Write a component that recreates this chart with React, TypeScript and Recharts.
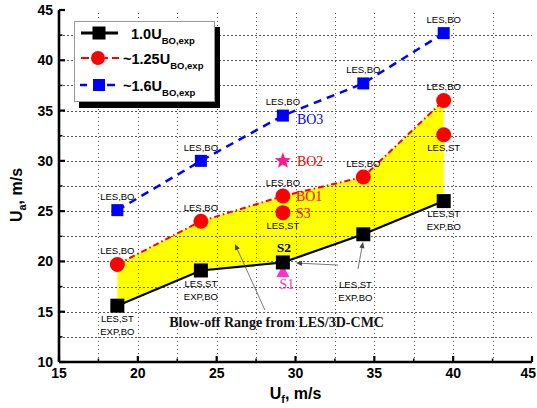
import React from 'react';
import {
  ComposedChart, XAxis, YAxis, Area, Line, Scatter,
  ReferenceLine, ReferenceDot, Legend, Label,
} from 'recharts';

// ---------- data ----------
const ufCases = [18.7, 24.0, 29.2, 34.3, 39.4];
const ua100 = [15.6, 19.1, 19.9, 22.7, 26.0];
const ua125 = [19.7, 24.0, 26.5, 28.4, 36.0];
const ua160 = [25.1, 30.0, 34.5, 37.7, 42.7];

const notes100 = ['LES,ST|EXP,BO', 'LES,ST|EXP,BO', '', '', 'LES,ST|EXP,BO'];
const tags100 = ['', '', 'S2', '', ''];
const notes125 = ['LES,BO', 'LES,BO', 'LES,BO', 'LES,BO', 'LES,BO'];
const tags125 = ['', '', 'BO1', '', ''];
const notes160 = ['LES,BO', 'LES,BO', 'LES,BO', 'LES,BO', 'LES,BO'];
const tags160 = ['', '', 'BO3', '', ''];

const stUf = [29.2, 39.4];
const stUa = [24.85, 32.6];
const stTags = ['S3', ''];

const bo2Uf = [29.2];
const bo2Ua = [30.0];
const s1Uf = [29.2];
const s1Ua = [19.0];

const farNoteUf = 33.8;
const farNoteUa = 17.7;
const farNoteText = 'LES,ST|EXP,BO';
const rangeTextUf = 28.8;
const rangeTextUa = 14.0;
const rangeText = 'Blow-off Range from LES/3D-CMC';

const arrowRange = [{ x: 28.06, y: 15.17 }, { x: 26.16, y: 21.73 }];
const arrowToS2 = [{ x: 32.69, y: 19.64 }, { x: 30.03, y: 19.84 }];
const arrowToP4 = [{ x: 33.96, y: 19.24 }, { x: 34.28, y: 21.93 }];

const xDomain = [15, 45];
const yDomain = [10, 45];
const xTicks = [15, 17.5, 20, 22.5, 25, 27.5, 30, 32.5, 35, 37.5, 40, 42.5, 45];
const yTicks = [10, 12.5, 15, 17.5, 20, 22.5, 25, 27.5, 30, 32.5, 35, 37.5, 40, 42.5, 45];

const legendLabels = ['1.0U', '~1.25U', '~1.6U'];
const legendSub = 'BO,exp';

// ---------- derived tables ----------
const rows = ufCases.map((uf, i) => ({
  uf, b: ua100[i], r: ua125[i], bl: ua160[i], band: [ua100[i], ua125[i]],
}));
const black = ufCases.map((uf, i) => ({ uf, ua: ua100[i], note: notes100[i], tag: tags100[i], below: true }));
const red = ufCases.map((uf, i) => ({ uf, ua: ua125[i], note: notes125[i], tag: tags125[i], below: false }));
const redSt = stUf.map((uf, i) => ({ uf, ua: stUa[i], note: 'LES,ST', tag: stTags[i], below: true }));
const blue = ufCases.map((uf, i) => ({ uf, ua: ua160[i], note: notes160[i], tag: tags160[i], below: false }));
const star = bo2Uf.map((uf, i) => ({ uf, ua: bo2Ua[i], tag: 'BO2' }));
const tri = s1Uf.map((uf, i) => ({ uf, ua: s1Ua[i], tag: 'S1' }));

const gridX = xTicks.filter((v) => v > xDomain[0] && v < xDomain[1]);
const gridY = yTicks.filter((v) => v > yDomain[0] && v < yDomain[1]);

// ---------- styles ----------
const SANS = "'Liberation Sans', Arial, sans-serif";
const SERIF = "'Liberation Serif', 'Times New Roman', serif";
const NOTE_FS = 9.5;
const RED = '#ff0000';
const BLUE = '#0000ff';
const MAG = '#ff33cc';

const Note = ({ cx, cy, note, below }: any) => {
  if (!note) return null;
  const lines = note.split('|');
  return (
    <g>
      {lines.map((t: string, i: number) => {
        const y = below ? cy + 13 * (i + 1) + 3.3 : cy - 13.5 * (lines.length - i) + 3.3;
        return (
          <text key={i} x={cx} y={y} textAnchor="middle" fontFamily={SANS} fontSize={NOTE_FS} fill="#000">{t}</text>
        );
      })}
    </g>
  );
};

const Tag = ({ x, y, text, color, anchor = 'start' }: any) =>
  text ? (
    <text x={x} y={y} textAnchor={anchor} fontFamily={SERIF} fontSize={14} fill={color}>{text}</text>
  ) : null;

const blackShape = (p: any) => {
  const { cx, cy, payload } = p;
  return (
    <g>
      <rect x={cx - 7} y={cy - 7} width={14} height={14} fill="#000" />
      <Note cx={cx} cy={cy} note={payload.note} below />
      {payload.tag && (
        <text x={cx + 1} y={cy - 10} textAnchor="middle" fontFamily={SERIF} fontWeight="bold" fontSize={13.5} fill="#000">{payload.tag}</text>
      )}
    </g>
  );
};

const redShape = (p: any) => {
  const { cx, cy, payload } = p;
  return (
    <g>
      <circle cx={cx} cy={cy} r={7.5} fill={RED} />
      <Note cx={cx} cy={cy} note={payload.note} below={payload.below} />
      <Tag x={cx + 13} y={cy + 5} text={payload.tag} color={RED} />
    </g>
  );
};

const blueShape = (p: any) => {
  const { cx, cy, payload } = p;
  return (
    <g>
      <rect x={cx - 6} y={cy - 6} width={12} height={12} fill={BLUE} />
      <Note cx={cx} cy={cy} note={payload.note} below={false} />
      <Tag x={cx + 14} y={cy + 8} text={payload.tag} color={BLUE} />
    </g>
  );
};

const starShape = (p: any) => {
  const { cx, cy, payload } = p;
  const pts: string[] = [];
  for (let k = 0; k < 10; k++) {
    const rr = k % 2 === 0 ? 8.5 : 3.6;
    const a = -Math.PI / 2 + (k * Math.PI) / 5;
    pts.push(`${cx + rr * Math.cos(a)},${cy + rr * Math.sin(a)}`);
  }
  return (
    <g>
      <polygon points={pts.join(' ')} fill="#ff1a8c" />
      <Tag x={cx + 14} y={cy + 5} text={payload.tag} color={RED} />
    </g>
  );
};

const triShape = (p: any) => {
  const { cx, cy, payload } = p;
  return (
    <g>
      <polygon points={`${cx},${cy - 7} ${cx + 6.5},${cy + 5.5} ${cx - 6.5},${cy + 5.5}`} fill={MAG} />
      <Tag x={cx + 4} y={cy + 18} text={payload.tag} color={MAG} anchor="middle" />
    </g>
  );
};

const arrowShape = (p: any) => {
  const { x1, y1, x2, y2 } = p;
  const ang = Math.atan2(y2 - y1, x2 - x1);
  const L = 6, W = 2.6;
  const bx = x2 - L * Math.cos(ang), by = y2 - L * Math.sin(ang);
  const nx = -Math.sin(ang) * W, ny = Math.cos(ang) * W;
  return (
    <g>
      <line x1={x1} y1={y1} x2={bx} y2={by} stroke="#555" strokeWidth={0.8} />
      <polygon points={`${x2},${y2} ${bx + nx},${by + ny} ${bx - nx},${by - ny}`} fill="#444" />
    </g>
  );
};

const gridShape = (p: any) => {
  const { x1, y1, x2, y2 } = p;
  const vertical = Math.abs(x1 - x2) < 0.5;
  const X1 = vertical ? Math.round(x1) + 0.5 : x1;
  const X2 = vertical ? Math.round(x2) + 0.5 : x2;
  const Y1 = vertical ? y1 : Math.round(y1) + 0.5;
  const Y2 = vertical ? y2 : Math.round(y2) + 0.5;
  return (
    <line x1={X1} y1={Y1} x2={X2} y2={Y2} stroke="#555" strokeWidth={1.2} strokeDasharray="1.5 2.5" shapeRendering="crispEdges" />
  );
};

// ---------- axis ticks ----------
const XTickBottom = (p: any) => {
  const { x, y, payload } = p;
  const v = payload.value;
  const major = v % 5 === 0;
  return (
    <g>
      <line x1={x} x2={x} y1={y} y2={y - (major ? 6 : 3.5)} stroke="#000" strokeWidth={major ? 2.2 : 1.5} />
      {major && (
        <text x={x} y={y + 16} textAnchor={v === 45 ? 'end' : 'middle'} dx={v === 45 ? 4 : 0} fontFamily={SANS} fontWeight="bold" fontSize={14} fill="#000">{v}</text>
      )}
    </g>
  );
};
const XTickTop = (p: any) => {
  const { x, y, payload } = p;
  const major = payload.value % 5 === 0;
  return <line x1={x} x2={x} y1={y} y2={y + (major ? 6 : 3.5)} stroke="#000" strokeWidth={major ? 2.2 : 1.5} />;
};
const YTickLeft = (p: any) => {
  const { x, y, payload } = p;
  const v = payload.value;
  const major = v % 5 === 0;
  return (
    <g>
      <line x1={x} x2={x + (major ? 6 : 3.5)} y1={y} y2={y} stroke="#000" strokeWidth={major ? 2.2 : 1.5} />
      {major && (
        <text x={x - 6} y={y + 5} textAnchor="end" fontFamily={SANS} fontWeight="bold" fontSize={14} fill="#000">{v}</text>
      )}
    </g>
  );
};
const YTickRight = (p: any) => {
  const { x, y, payload } = p;
  const major = payload.value % 5 === 0;
  return <line x1={x} x2={x - (major ? 6 : 3.5)} y1={y} y2={y} stroke="#000" strokeWidth={major ? 2.2 : 1.5} />;
};

const XTitle = (p: any) => {
  const vb = p.viewBox || { x: 59, y: 362, width: 473, height: 46 };
  return (
    <text x={vb.x + vb.width / 2} y={vb.y + 37} textAnchor="middle" fontFamily={SANS} fontWeight="bold" fontSize={16} fill="#000">
      U<tspan fontSize={11} dy={4}>f</tspan><tspan dy={-4}>, m/s</tspan>
    </text>
  );
};
const YTitle = () => {
  const cx = 22, cy = 195;
  return (
    <text x={cx} y={cy} transform={`rotate(-90 ${cx} ${cy})`} textAnchor="middle" fontFamily={SANS} fontWeight="bold" fontSize={16} fill="#000">
      U<tspan fontSize={11} dy={4}>a</tspan><tspan dy={-4}>, m/s</tspan>
    </text>
  );
};

// ---------- legend ----------
const LegendBox = () => (
  <svg width={150} height={92} style={{ display: 'block' }}>
    <rect x={5} y={6} width={141} height={81} fill="#000" />
    <rect x={0.5} y={0.5} width={140} height={80} fill="#fff" stroke="#999" strokeWidth={1} />
    <line x1={7} x2={44} y1={12} y2={12} stroke="#000" strokeWidth={3} />
    <rect x={18.5} y={5.5} width={13} height={13} fill="#000" />
    <text x={57} y={17.5} fontFamily={SANS} fontWeight="bold" fontSize={14.5} fill="#000">
      {legendLabels[0]}<tspan fontSize={9.5} dy={5}>{legendSub}</tspan>
    </text>
    <line x1={7} x2={15} y1={37} y2={37} stroke={RED} strokeWidth={2} />
    <line x1={31} x2={34} y1={37} y2={37} stroke={RED} strokeWidth={2} />
    <line x1={38} x2={45} y1={37} y2={37} stroke={RED} strokeWidth={2} />
    <circle cx={24} cy={37} r={7} fill={RED} />
    <text x={49} y={42.5} fontFamily={SANS} fontWeight="bold" fontSize={14.5} fill="#000">
      {legendLabels[1]}<tspan fontSize={9.5} dy={5}>{legendSub}</tspan>
    </text>
    <line x1={6} x2={13} y1={64} y2={64} stroke={BLUE} strokeWidth={2.5} />
    <line x1={33} x2={41} y1={64} y2={64} stroke={BLUE} strokeWidth={2.5} />
    <rect x={19} y={58} width={12} height={12} fill={BLUE} />
    <text x={49} y={69.5} fontFamily={SANS} fontWeight="bold" fontSize={14.5} fill="#000">
      {legendLabels[2]}<tspan fontSize={9.5} dy={5}>{legendSub}</tspan>
    </text>
  </svg>
);

const NoteDot = (p: any) => <Note cx={p.cx} cy={p.cy - 13 * 1.5 + 6.5} note={farNoteText} below />;
const RangeDot = (p: any) => (
  <text x={p.cx} y={p.cy + 5} textAnchor="middle" fontFamily={SERIF} fontWeight="bold" fontSize={14} fill="#111">{rangeText}</text>
);

export default function App() {
  return (
    <div style={{ position: 'fixed', left: 0, top: 0, width: 537, height: 408, background: '#fff' }}>
      <ComposedChart width={537} height={408} data={rows} margin={{ top: 10, right: 5, bottom: 0, left: 0 }}>
        <XAxis
          dataKey="uf" type="number" domain={xDomain} ticks={xTicks} interval={0} allowDataOverflow
          height={46} tickSize={0} tickMargin={0} tick={<XTickBottom />}
          axisLine={{ stroke: '#000', strokeWidth: 2.6 }} tickLine={false}
        >
          <Label content={<XTitle />} />
        </XAxis>
        <XAxis
          xAxisId="top" orientation="top" type="number" domain={xDomain} ticks={xTicks} interval={0}
          allowDataOverflow height={0} tickSize={0} tickMargin={0} tick={<XTickTop />}
          axisLine={{ stroke: '#000', strokeWidth: 2.6 }} tickLine={false}
        />
        <YAxis
          type="number" domain={yDomain} ticks={yTicks} interval={0} allowDataOverflow
          width={59} tickSize={0} tickMargin={0} tick={<YTickLeft />}
          axisLine={{ stroke: '#000', strokeWidth: 2.6 }} tickLine={false}
        >
          <Label content={<YTitle />} />
        </YAxis>
        <YAxis
          yAxisId="right" orientation="right" type="number" domain={yDomain} ticks={yTicks} interval={0}
          allowDataOverflow width={0} tickSize={0} tickMargin={0} tick={<YTickRight />}
          axisLine={{ stroke: '#000', strokeWidth: 2.6 }} tickLine={false}
        />
        <Area dataKey="band" type="linear" fill="#ffff00" fillOpacity={1} stroke="none" isAnimationActive={false} />
        {gridX.map((v) => (
          <ReferenceLine key={`gx${v}`} segment={[{ x: v, y: yDomain[0] }, { x: v, y: yDomain[1] }]} shape={gridShape} ifOverflow="visible" />
        ))}
        {gridY.map((v) => (
          <ReferenceLine key={`gy${v}`} segment={[{ x: xDomain[0], y: v }, { x: xDomain[1], y: v }]} shape={gridShape} ifOverflow="visible" />
        ))}
        <Line dataKey="b" type="linear" stroke="#000" strokeWidth={2.2} dot={false} activeDot={false} isAnimationActive={false} />
        <Line dataKey="r" type="linear" stroke={RED} strokeWidth={2} strokeDasharray="6 3 1.5 3" dot={false} activeDot={false} isAnimationActive={false} />
        <Line dataKey="bl" type="linear" stroke={BLUE} strokeWidth={2.5} strokeDasharray="8 6" dot={false} activeDot={false} isAnimationActive={false} />
        <ReferenceLine segment={arrowRange} shape={arrowShape} ifOverflow="visible" />
        <ReferenceLine segment={arrowToS2} shape={arrowShape} ifOverflow="visible" />
        <ReferenceLine segment={arrowToP4} shape={arrowShape} ifOverflow="visible" />
        <Scatter data={tri} dataKey="ua" shape={triShape} isAnimationActive={false} />
        <Scatter data={black} dataKey="ua" shape={blackShape} isAnimationActive={false} />
        <Scatter data={red} dataKey="ua" shape={redShape} isAnimationActive={false} />
        <Scatter data={redSt} dataKey="ua" shape={redShape} isAnimationActive={false} />
        <Scatter data={blue} dataKey="ua" shape={blueShape} isAnimationActive={false} />
        <Scatter data={star} dataKey="ua" shape={starShape} isAnimationActive={false} />
        <ReferenceDot x={farNoteUf} y={farNoteUa} shape={NoteDot} ifOverflow="visible" />
        <ReferenceDot x={rangeTextUf} y={rangeTextUa} shape={RangeDot} ifOverflow="visible" />
        <Legend
          verticalAlign="middle" align="center" layout="horizontal"
          wrapperStyle={{ position: 'absolute', left: 74, top: 21, width: 150, height: 92 }}
          content={() => <LegendBox />}
        />
      </ComposedChart>
    </div>
  );
}
